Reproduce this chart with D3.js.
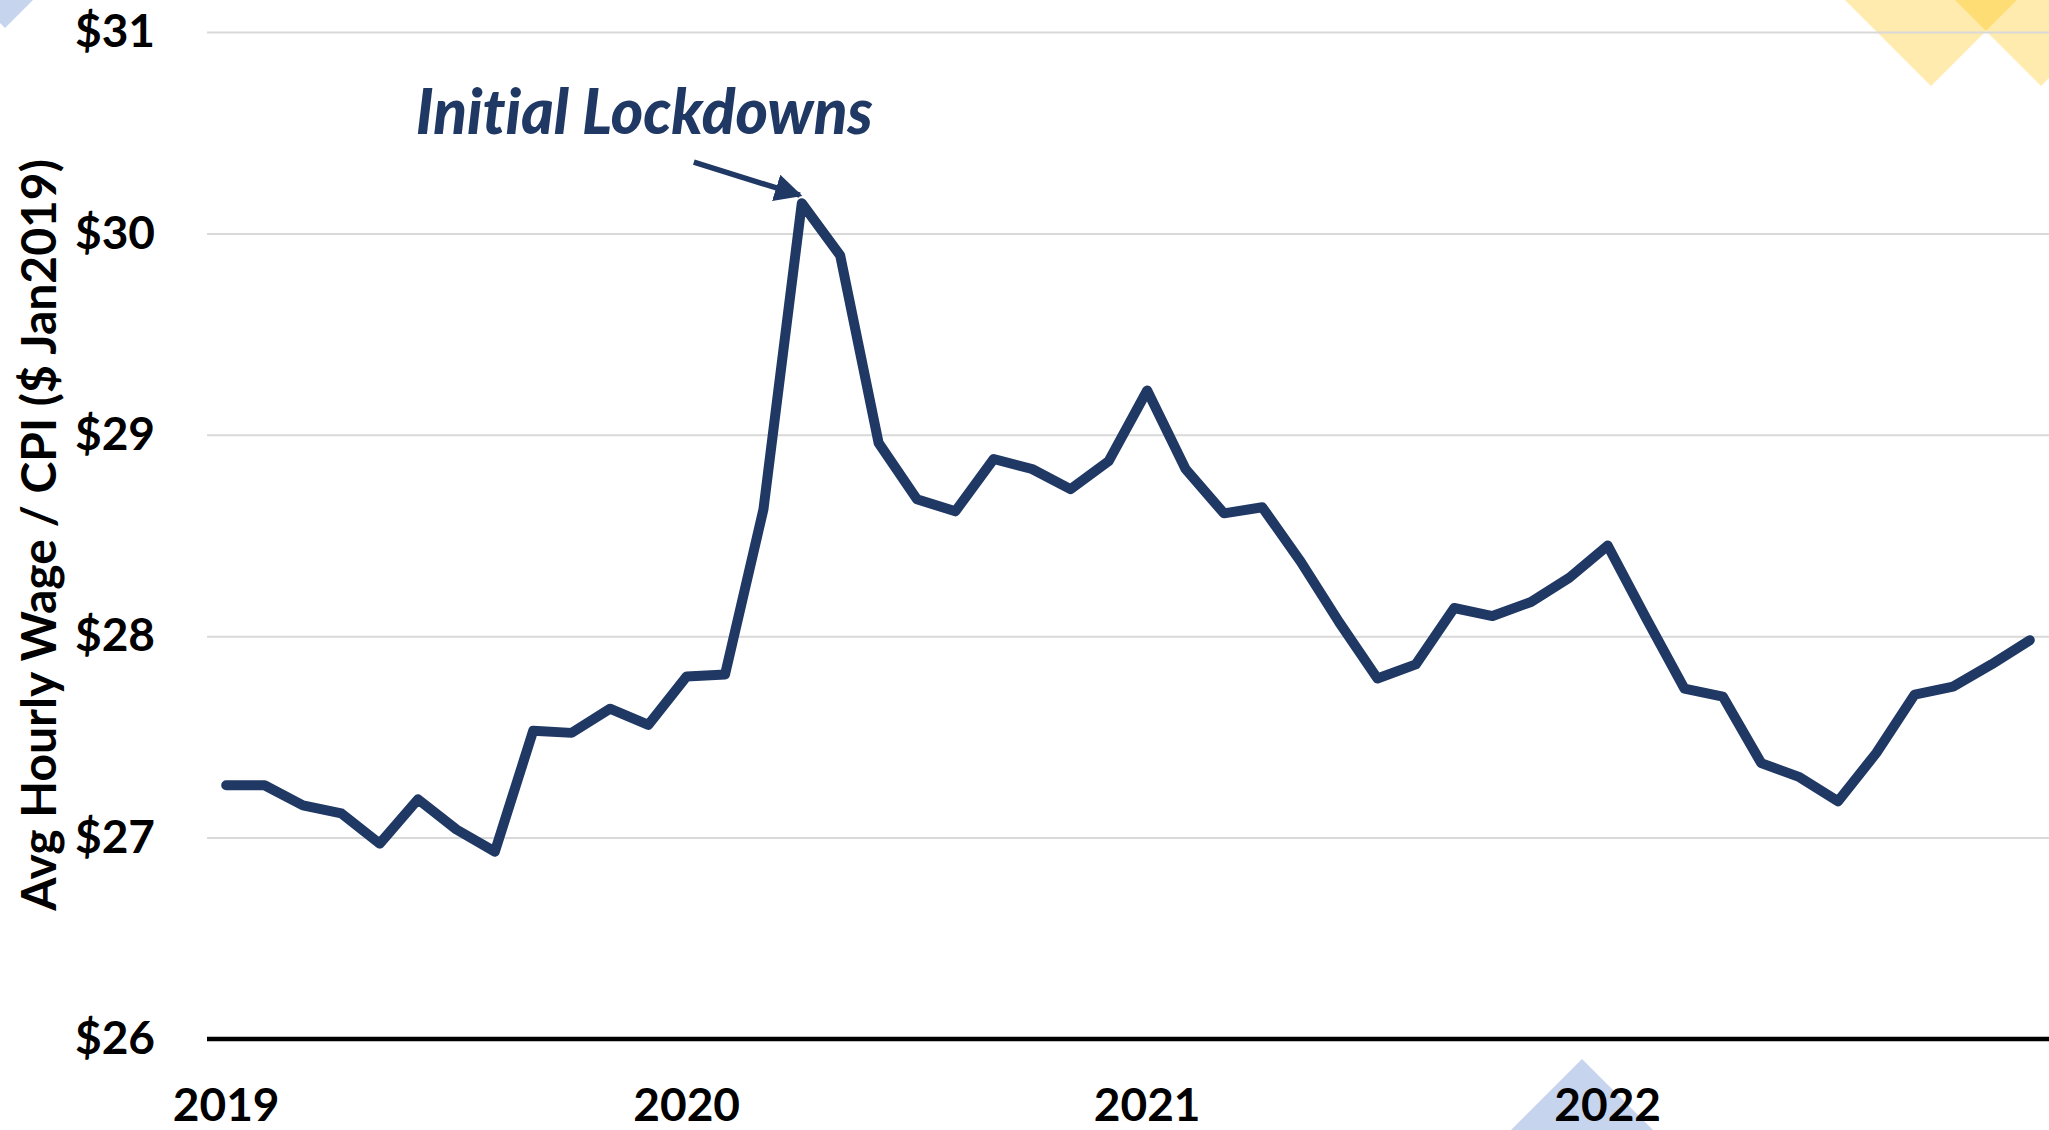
<!DOCTYPE html>
<html lang="en">
<head>
<meta charset="UTF-8">
<title>Real wage</title>
<style>
  body { margin: 0; background: #fff; }
  svg { display: block; }
  svg text { font-family: Lato, "Open Sans", sans-serif; font-weight: 700; font-variant-ligatures: none; }
  .grid line { stroke: #d9d9d9; stroke-width: 2px; }
  .tick text { fill: #000; }
  .line { fill: none; stroke: #203864; stroke-width: 10px; stroke-linejoin: round; stroke-linecap: round; }
</style>
</head>
<body>
<svg width="2049" height="1130"></svg>
<script src="https://cdn.jsdelivr.net/npm/d3@7"></script>
<script>

// monthly categories, Jan 2019 .. Dec 2022
var years = ["2019", "2020", "2021", "2022"];
var monthNames = ["Jan","Feb","Mar","Apr","May","Jun","Jul","Aug","Sep","Oct","Nov","Dec"];
var months = [];
years.forEach(function (yr) { monthNames.forEach(function (m) { months.push(m + " " + yr); }); });

// avg hourly wage deflated by CPI, in Jan 2019 dollars
var wage2019 = [27.26, 27.26, 27.16, 27.12, 26.97, 27.19, 27.04, 26.93, 27.53, 27.52, 27.64, 27.56];
var wage2020 = [27.80, 27.81, 28.63, 30.15, 29.89, 28.96, 28.68, 28.62, 28.88, 28.83, 28.73, 28.87];
var wage2021 = [29.22, 28.83, 28.61, 28.64, 28.37, 28.07, 27.79, 27.86, 28.14, 28.10, 28.17, 28.29];
var wage2022 = [28.45, 28.09, 27.74, 27.70, 27.37, 27.30, 27.18, 27.42, 27.71, 27.75, 27.86, 27.98];
var wages = wage2019.concat(wage2020, wage2021, wage2022);

var yTicks = [26, 27, 28, 29, 30, 31];
var yearTicks = ["Jan 2019", "Jan 2020", "Jan 2021", "Jan 2022"];
var yTitle = "Avg Hourly Wage / CPI ($ Jan2019)";
var note = "Initial Lockdowns";
var noteMonth = "Apr 2020";

var data = months.map(function (m, i) { return {month: m, value: wages[i]}; });

var svg = d3.select("svg"),
    plot = {left: 207, right: 2049, top: 32, bottom: 1039};

var x = d3.scaleBand().domain(months).range([plot.left, plot.right]),
    y = d3.scaleLinear().domain([26, 31]).range([plot.bottom, plot.top]);

function cx(m) { return x(m) + x.bandwidth() / 2; }

// background decorations
var deco = svg.append("g");
deco.append("polygon").attr("points", "0,0 33,0 5,28 0,23").attr("fill", "#c7d4ee");
deco.append("polygon")
    .attr("points", [[1731, -114], [2131, -114], [1931, 86]].join(" "))
    .attr("fill", "#ffc000").attr("fill-opacity", 0.32);
deco.append("polygon")
    .attr("points", [[1841, -114], [2241, -114], [2041, 86]].join(" "))
    .attr("fill", "#ffc000").attr("fill-opacity", 0.32);
deco.append("polygon")
    .attr("points", [[1582, 1059], [1682, 1159], [1482, 1159]].join(" "))
    .attr("fill", "#c7d4ee");

// gridlines
svg.append("g")
    .attr("class", "grid")
    .attr("transform", "translate(" + plot.left + ",0)")
    .call(d3.axisRight(y).tickValues(yTicks.slice(1)).tickSize(plot.right - plot.left).tickFormat(""))
    .call(function (g) { g.select(".domain").remove(); });

// y axis labels
svg.append("g")
    .attr("transform", "translate(" + plot.left + ",0)")
    .call(d3.axisLeft(y).tickValues(yTicks).tickSize(0).tickPadding(52).tickFormat(function (d) { return "$" + d; }))
    .call(function (g) {
      g.select(".domain").remove();
      g.selectAll("text").style("font-size", "46px");
    });

// x axis labels
svg.append("g")
    .attr("transform", "translate(0," + plot.bottom + ")")
    .call(d3.axisBottom(x).tickValues(yearTicks).tickSize(0).tickPadding(49).tickFormat(function (d) { return d.slice(4); }))
    .call(function (g) {
      g.select(".domain").remove();
      g.selectAll("text").style("font-size", "46px");
    });

// x axis baseline
svg.append("line")
    .attr("x1", plot.left).attr("x2", plot.right)
    .attr("y1", y(26)).attr("y2", y(26))
    .attr("stroke", "#000").attr("stroke-width", 4.5);

// y axis title
svg.append("text")
    .attr("transform", "translate(56," + 535 + ") rotate(-90)")
    .attr("text-anchor", "middle")
    .style("font-size", "48px")
    .text(yTitle);

// the series
var line = d3.line()
    .x(function (d) { return cx(d.month); })
    .y(function (d) { return y(d.value); });

svg.append("path")
    .datum(data)
    .attr("class", "line")
    .attr("d", line);

// annotation
var peak = data.find(function (d) { return d.month === noteMonth; });
var tipX = cx(peak.month) - 2,
    tipY = y(peak.value) - 8;

svg.append("defs").append("marker")
    .attr("id", "arrow")
    .attr("viewBox", "0 0 10 10")
    .attr("refX", 9).attr("refY", 5)
    .attr("markerWidth", 5).attr("markerHeight", 5)
    .attr("markerUnits", "strokeWidth")
    .attr("orient", "auto")
  .append("path")
    .attr("d", "M0,0 L10,5 L0,10 z")
    .attr("fill", "#203864");

svg.append("line")
    .attr("x1", tipX - 106).attr("y1", tipY - 33)
    .attr("x2", tipX).attr("y2", tipY)
    .attr("stroke", "#203864").attr("stroke-width", 5.5)
    .attr("marker-end", "url(#arrow)");

svg.append("text")
    .attr("x", tipX + 73).attr("y", tipY - 61)
    .attr("text-anchor", "end")
    .attr("fill", "#203864")
    .style("font-size", "62px")
    .style("font-weight", 900)
    .style("font-style", "italic")
    .text(note);

</script>
</body>
</html>
